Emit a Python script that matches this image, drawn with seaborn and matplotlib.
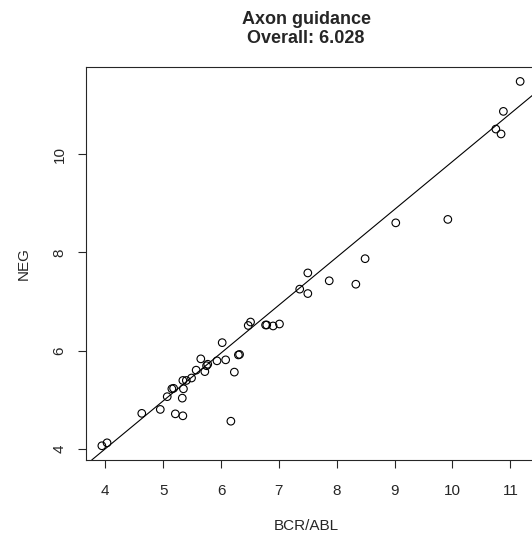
import matplotlib
matplotlib.use("Agg")
import matplotlib.pyplot as plt
import pandas as pd
import seaborn as sns

# Значения
bcr_abl = [3.94, 4.03, 4.63, 4.95, 5.07, 5.15, 5.18, 5.33, 5.21, 5.34,
           5.35, 5.34, 5.40, 5.49, 5.57, 5.65, 5.72, 5.75, 5.77, 5.93,
           6.08, 6.02, 6.23, 6.30, 6.32, 6.17, 6.47, 6.51, 6.77, 6.79,
           6.90, 7.01, 7.36, 7.50, 7.50, 7.87, 8.33, 8.49, 9.02, 9.92,
           10.75, 10.84, 10.88, 11.17]
neg = [4.06, 4.12, 4.72, 4.80, 5.06, 5.22, 5.23, 5.03, 4.71, 4.67,
       5.22, 5.39, 5.39, 5.44, 5.60, 5.83, 5.57, 5.69, 5.72, 5.79,
       5.81, 6.16, 5.56, 5.91, 5.92, 4.56, 6.51, 6.58, 6.52, 6.52,
       6.50, 6.54, 7.25, 7.16, 7.58, 7.42, 7.35, 7.87, 8.60, 8.67,
       10.51, 10.41, 10.87, 11.48]
x_ticks = [4, 5, 6, 7, 8, 9, 10, 11]
y_ticks = [4, 6, 8, 10]

# линия тренда, как на исходном графике (оценка по картинке)
fit_intercept = 0.099
fit_slope = 0.975

df = pd.DataFrame({'BCR/ABL': bcr_abl, 'NEG': neg})

sns.set_style("ticks")
plt.rcParams['font.family'] = ['Liberation Sans', 'DejaVu Sans']

W, H = 532, 538
fig = plt.figure(figsize=(W / 100, H / 100), dpi=100)
# область графика шире картинки: правый край обрезан, как в оригинале
ax = fig.add_axes([86 / W, (H - 460) / H, (554 - 86) / W, (460 - 67) / H])

sns.scatterplot(
    x='BCR/ABL', y='NEG', data=df, ax=ax, s=30,
    facecolors='none', edgecolor='black', linewidth=0.8,
)
ax.axline((0, fit_intercept), slope=fit_slope, color='black', linewidth=0.8)
ax.set_xlim(3.666, 11.755)
ax.set_ylim(3.770, 11.774)

ax.set_xticks(x_ticks)
ax.set_yticks(y_ticks)
ax.tick_params(axis='both', direction='out', length=6, width=0.8, labelsize=11)
ax.tick_params(axis='x', pad=11)
ax.tick_params(axis='y', pad=8)
for lab in ax.get_yticklabels():
    lab.set_rotation(90)
    lab.set_va('center')
for s in ax.spines.values():
    s.set_linewidth(0.8)
    s.set_visible(True)
ax.set_xlabel('')
ax.set_ylabel('NEG', fontsize=11, labelpad=16)

fig.text(306 / W, 1 - 29 / H, 'Axon guidance\nOverall: 6.028', ha='center', va='center',
         fontsize=13, fontweight='bold', linespacing=1.2)
fig.text(306 / W, 1 - 526 / H, 'BCR/ABL', ha='center', va='center', fontsize=11)

fig.savefig('out.png', dpi=100)
plt.close(fig)
